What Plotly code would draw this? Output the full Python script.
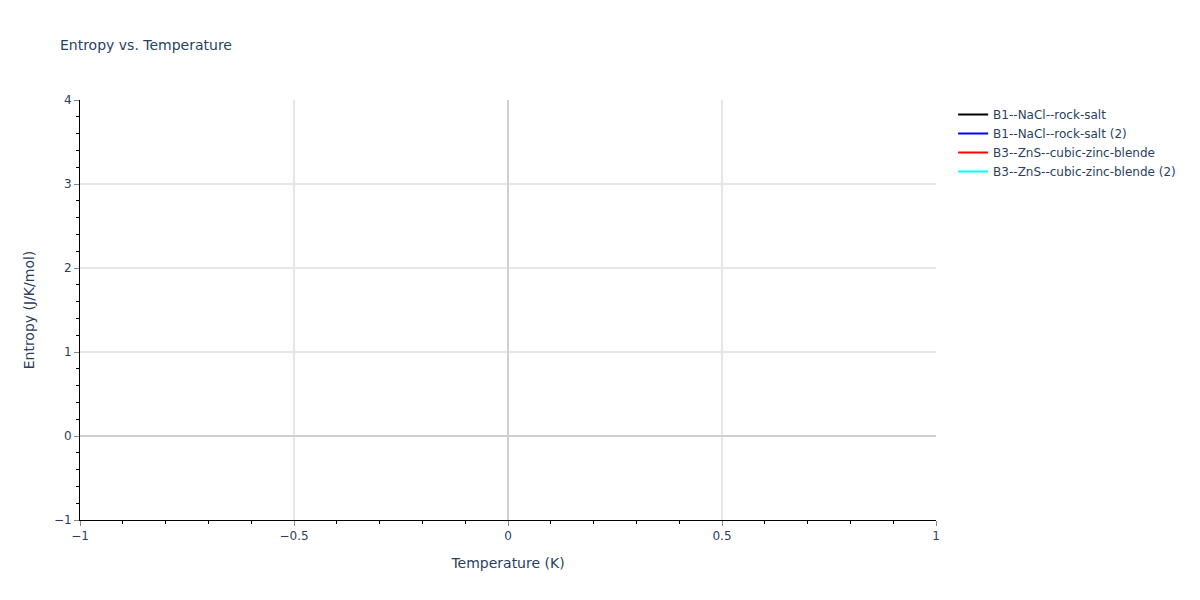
import plotly.graph_objects as go

# phases with no entropy data in this plot
phase_names = ['B1--NaCl--rock-salt', 'B1--NaCl--rock-salt (2)',
               'B3--ZnS--cubic-zinc-blende', 'B3--ZnS--cubic-zinc-blende (2)']
phase_colors = ['black', 'blue', 'red', 'cyan']
temperature = [None]
entropy = [None]

x_range = [-1, 1]
y_range = [-1, 4]

fig = go.Figure()
for name, color in zip(phase_names, phase_colors):
    fig.add_trace(go.Scatter(x=temperature, y=entropy, mode='lines', name=name,
                             line=dict(color=color), showlegend=True))

axis_style = dict(showline=True, linecolor='black', ticks='outside', ticklen=5,
                  tickcolor='#888', gridcolor='#e6e6e6', gridwidth=2, zeroline=True,
                  zerolinecolor='#d0d0d0', zerolinewidth=2,
                  title_font=dict(size=14),
                  minor=dict(ticks='outside', ticklen=3, tickcolor='black', showgrid=False))

# page has an 8px body margin, so margins are shifted by 8px
fig.update_layout(
    template='plotly_white',
    width=1200, height=600,
    font=dict(family='Verdana, DejaVu Sans, sans-serif', size=12, color='#2a3f5f'),
    title=dict(text='Entropy vs. Temperature', font=dict(size=14), x=0.0433,
               y=0.938, yanchor='middle'),
    showlegend=True,
    legend=dict(x=1.02, y=1),
    margin=dict(l=72, r=272, t=92, b=88, autoexpand=False),
    xaxis=dict(title='Temperature (K)', range=x_range, dtick=0.5, **axis_style),
    yaxis=dict(title='Entropy (J/K/mol)', range=y_range, dtick=1, **axis_style),
)
fig.update_xaxes(minor_dtick=0.1)
fig.update_yaxes(minor_dtick=0.2)

fig.write_html('out.html')
